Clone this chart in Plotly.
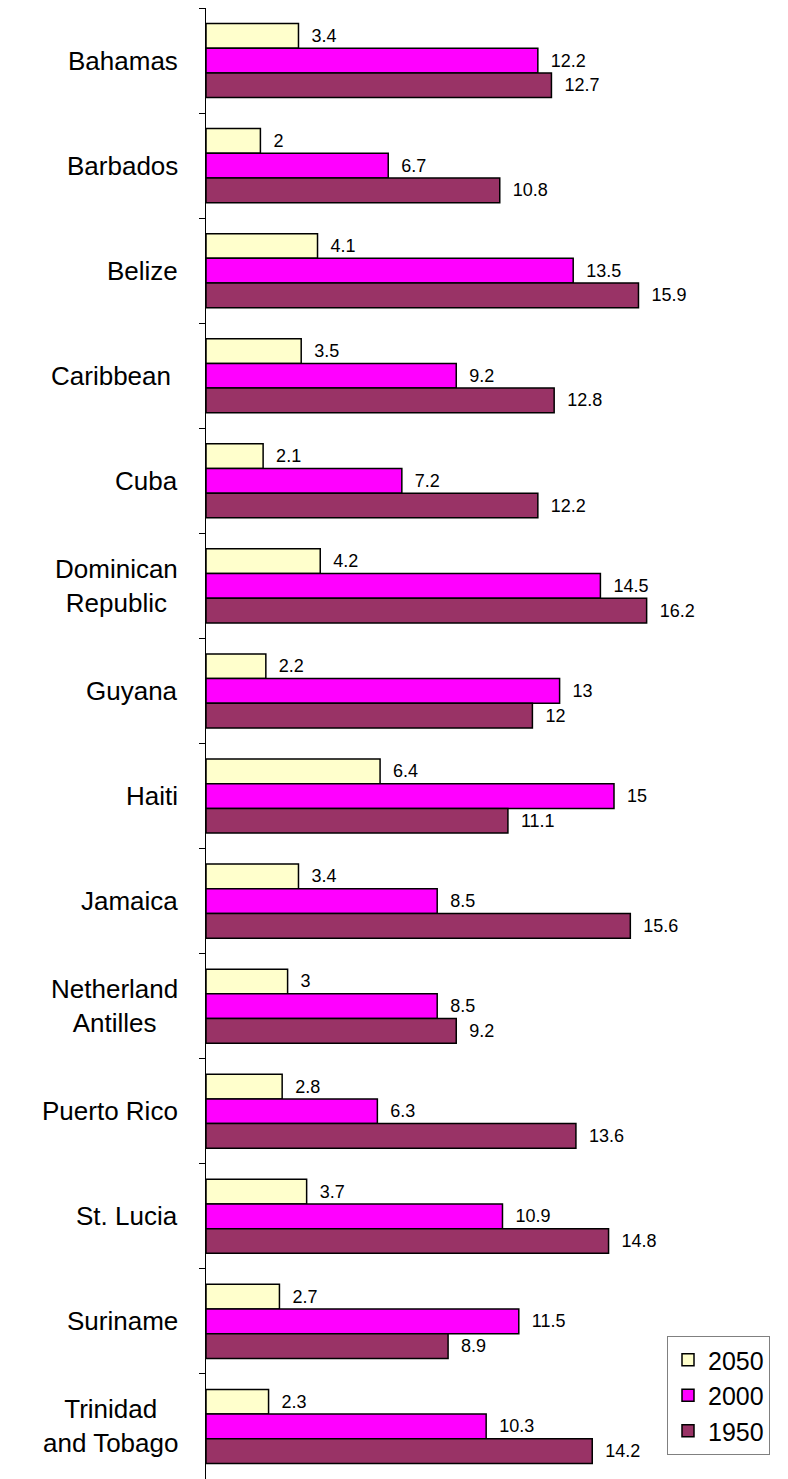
import plotly.graph_objects as go

countries = ["Bahamas", "Barbados", "Belize", "Caribbean\u00a0", "Cuba",
             "Dominican<br>Republic", "Guyana", "Haiti", "Jamaica",
             "Netherland<br>Antilles", "Puerto Rico", "St. Lucia", "Suriname",
             "Trinidad<br>and Tobago"]
v2050 = [3.4, 2, 4.1, 3.5, 2.1, 4.2, 2.2, 6.4, 3.4, 3, 2.8, 3.7, 2.7, 2.3]
v2000 = [12.2, 6.7, 13.5, 9.2, 7.2, 14.5, 13, 15, 8.5, 8.5, 6.3, 10.9, 11.5, 10.3]
v1950 = [12.7, 10.8, 15.9, 12.8, 12.2, 16.2, 12, 11.1, 15.6, 9.2, 13.6, 14.8, 8.9, 14.2]

series = [("2050", v2050, "#FFFFCC"), ("2000", v2000, "#FF00FF"), ("1950", v1950, "#993366")]

FONT = "Arial, Liberation Sans, sans-serif"

fig = go.Figure()
for name, vals, color in series:
    fig.add_trace(go.Bar(
        y=countries, x=vals, name=name, orientation="h",
        marker=dict(color=color, line=dict(color="black", width=1.5)),
        texttemplate="\u00a0\u00a0%{x}", textposition="outside",
        textfont=dict(family=FONT, size=18, color="black"),
        constraintext="none", cliponaxis=False,
    ))

for c in countries:
    fig.add_annotation(
        x=0, xref="paper", y=c, yref="y", text=c, showarrow=False,
        xanchor="right", align="center", xshift=-26,
        font=dict(family=FONT, size=26, color="black"),
    )

fig.update_layout(
    width=788, height=1479,
    margin=dict(l=198, r=46, t=0, b=8, autoexpand=False),
    barmode="group", bargap=0.295, bargroupgap=0,
    plot_bgcolor="white", paper_bgcolor="white",
    showlegend=True,
    legend=dict(
        xref="container", yref="container", x=659/788, y=1 - 1328/1479,
        xanchor="left", yanchor="top",
        font=dict(family=FONT, size=25, color="black"),
        bgcolor="white", bordercolor="#808080", borderwidth=1,
        traceorder="normal",
    ),
    xaxis=dict(range=[0, 20], showgrid=False, zeroline=False, showline=False,
               showticklabels=False, ticks=""),
    yaxis=dict(autorange="reversed", type="category", showgrid=False,
               showline=True, linecolor="black", linewidth=1,
               ticks="outside", ticklen=6, tickcolor="black", tickson="boundaries",
               showticklabels=False),
)

fig.write_html("out.html")
